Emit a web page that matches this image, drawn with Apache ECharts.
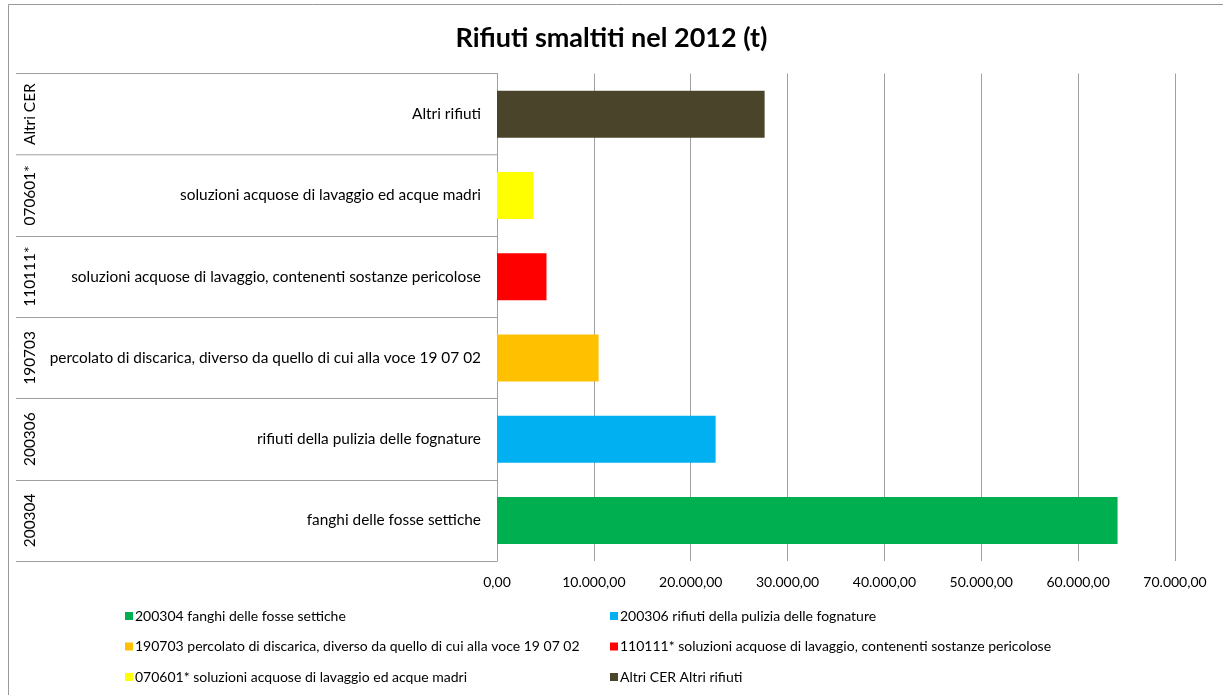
<!DOCTYPE html>
<html>
<head>
<meta charset="utf-8">
<title>Rifiuti smaltiti nel 2012</title>
<script src="https://cdn.jsdelivr.net/npm/echarts@6/dist/echarts.min.js"></script>
<style>
  html, body { margin: 0; padding: 0; background: #fff; }
  #chart { width: 1223px; height: 695px; }
</style>
</head>
<body>
<div id="chart"></div>
<script>
// categories, bottom to top as they appear on the axis
const codes = ['200304', '200306', '190703', '110111*', '070601*', 'Altri CER'];
const descriptions = [
  'fanghi delle fosse settiche',
  'rifiuti della pulizia delle fognature',
  'percolato di discarica, diverso da quello di cui alla voce 19 07 02',
  'soluzioni acquose di lavaggio, contenenti sostanze pericolose',
  'soluzioni acquose di lavaggio ed acque madri',
  'Altri rifiuti'
];
// tonnes
const values = [64070, 22570, 10490, 5110, 3770, 27630];
const colors = ['#00B050', '#00B0F0', '#FFC000', '#FF0000', '#FFFF00', '#4A452A'];
const xMax = 70000;
const xStep = 10000;

const FONT = 'Lato';
const GRAY = '#a0a0a0';

// italian number format: 10.000,00
function fmt(v) {
  const s = Math.round(v).toString().replace(/\B(?=(\d{3})+(?!\d))/g, '.');
  return s + ',00';
}

const names = codes.map((c, i) => c + ' ' + descriptions[i]);

// one series per category so each gets its own legend entry
const series = codes.map((c, i) => ({
  name: names[i],
  type: 'bar',
  stack: 'all',
  barWidth: 47,
  itemStyle: { color: colors[i] },
  data: values.map((v, j) => (j === i ? v : null))
}));

const legendBase = {
  orient: 'vertical',
  top: 603,
  itemWidth: 8,
  itemHeight: 8,
  itemGap: 14.5,
  selectedMode: false,
  icon: 'rect',
  textStyle: { fontFamily: FONT, fontSize: 14, lineHeight: 16, color: '#000', padding: [0, 0, 0, -3] }
};

const chart = echarts.init(document.getElementById('chart'));
chart.setOption({
  animation: false,
  textStyle: { fontFamily: FONT },
  title: {
    text: 'Rifiuti smaltiti nel 2012 (t)',
    left: 'center',
    top: 20,
    textStyle: { fontFamily: FONT, fontSize: 27, fontWeight: 'bold', color: '#000' }
  },
  graphic: [{
    type: 'rect',
    shape: { x: 8.5, y: 4.5, width: 1400, height: 900 },
    style: { fill: 'none', stroke: '#999', lineWidth: 1 },
    silent: true
  }],
  legend: [
    Object.assign({}, legendBase, { data: [names[0], names[2], names[4]], left: 120 }),
    Object.assign({}, legendBase, { data: [names[1], names[3], names[5]], left: 605 })
  ],
  grid: { left: 497, right: 48, top: 73.5, bottom: 134, containLabel: false },
  xAxis: {
    type: 'value',
    min: 0,
    max: xMax,
    interval: xStep,
    axisLine: { show: false },
    axisTick: { show: false },
    splitLine: { lineStyle: { color: GRAY, width: 1 } },
    axisLabel: {
      margin: 14,
      fontFamily: FONT,
      fontSize: 14,
      color: '#000',
      formatter: fmt
    }
  },
  yAxis: [
    {
      type: 'category',
      position: 'left',
      data: descriptions,
      axisLine: { show: true, lineStyle: { color: GRAY } },
      axisTick: { show: false },
      axisLabel: { margin: 16, fontFamily: FONT, fontSize: 15.4, color: '#000' }
    },
    {
      type: 'category',
      position: 'left',
      data: codes,
      axisLine: { show: false },
      axisTick: { show: true, length: 481, lineStyle: { color: GRAY } },
      axisLabel: { rotate: 90, margin: 459, fontFamily: FONT, fontSize: 15.4, color: '#000' }
    }
  ],
  series: series
});
</script>
</body>
</html>
